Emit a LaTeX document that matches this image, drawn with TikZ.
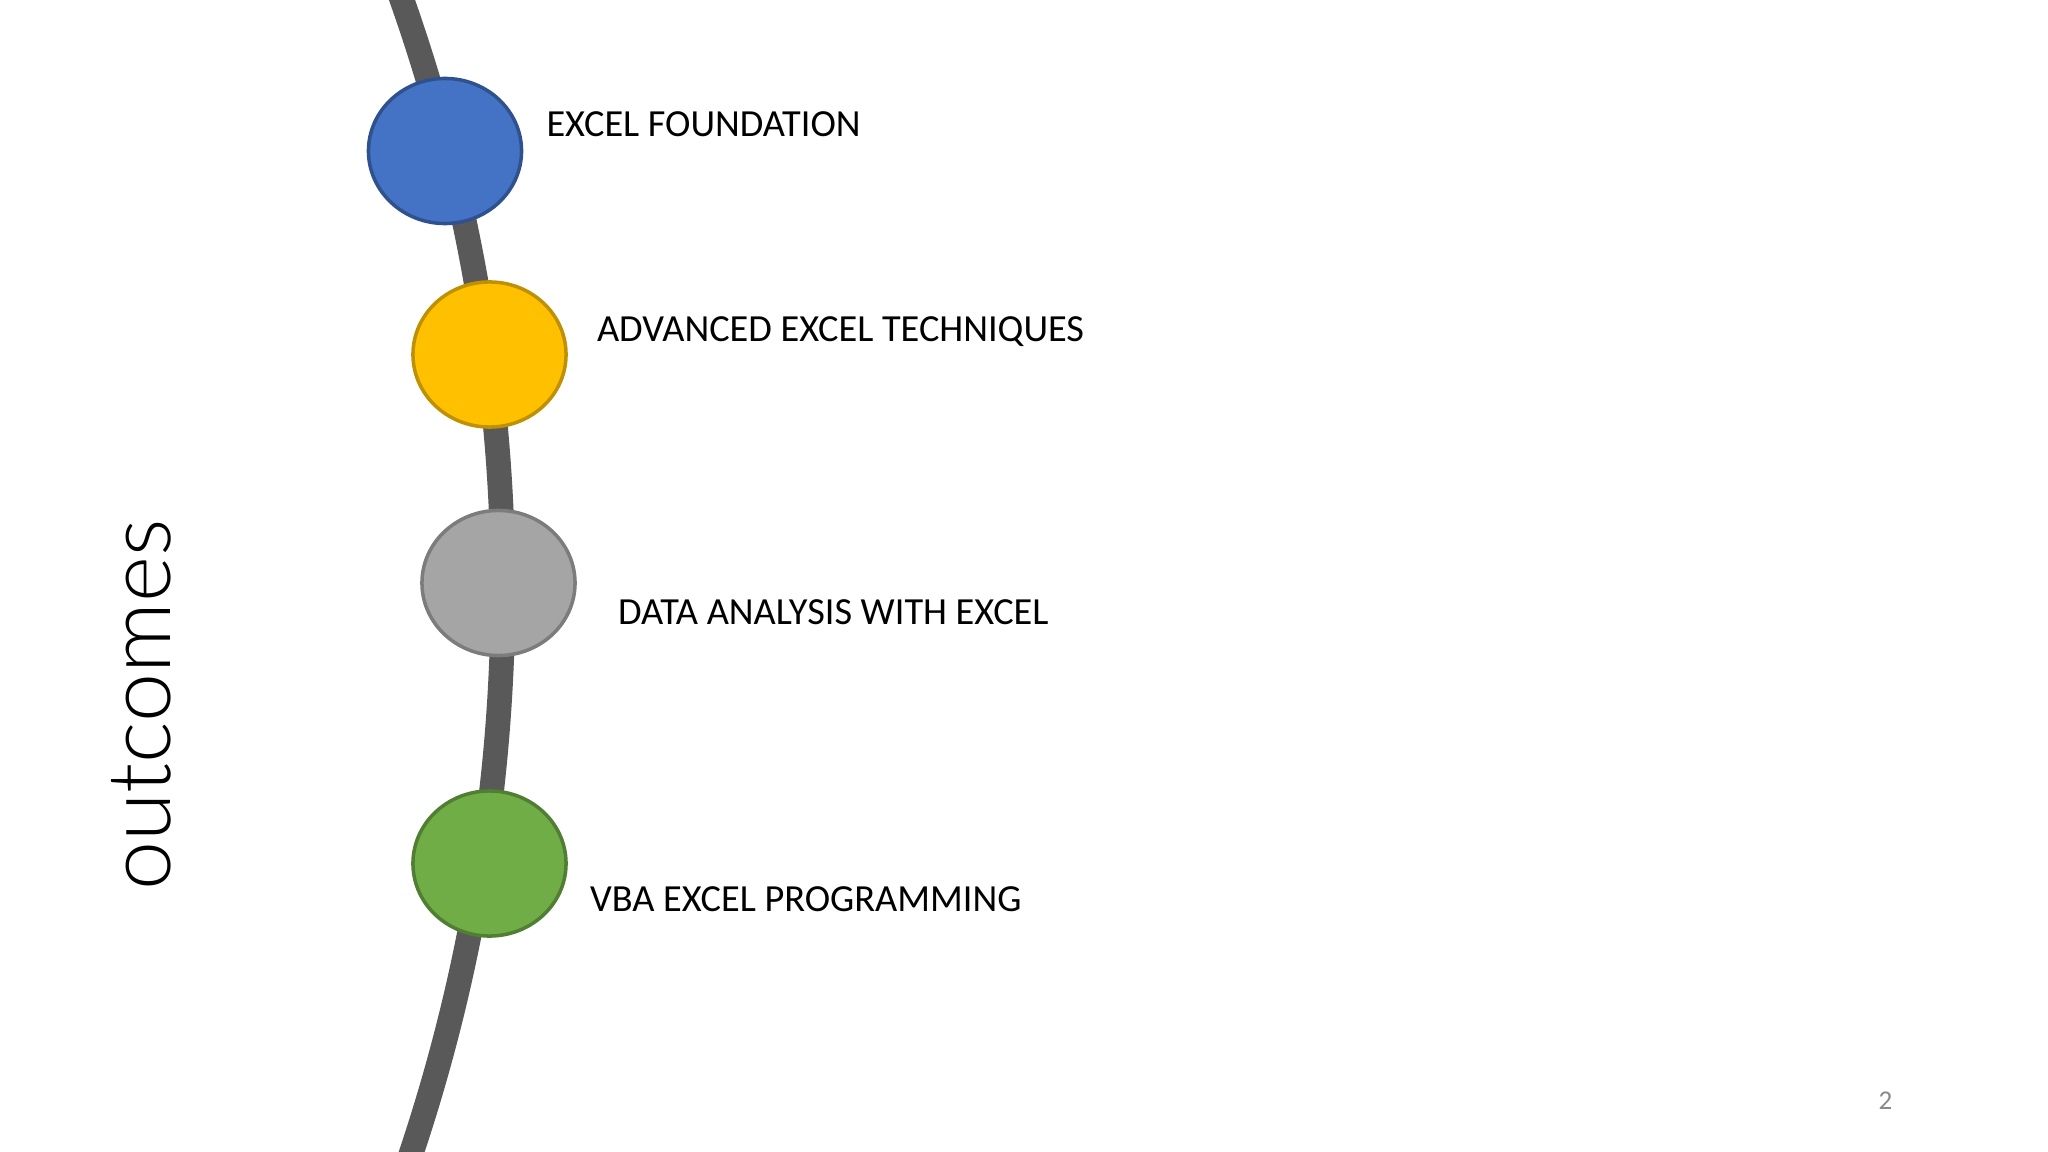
\documentclass[tikz,border=0pt]{standalone}
\usepackage{fontspec}
\setmainfont{Carlito}
\newfontfamily\lightfont{Lato Light}
\usepackage{xcolor}
\usetikzlibrary{positioning}
\usetikzlibrary{shapes.geometric}
\definecolor{arcgray}{HTML}{595959}
\definecolor{dotblue}{HTML}{4472C4}
\definecolor{dotblueline}{HTML}{2F528F}
\definecolor{dotyellow}{HTML}{FFC000}
\definecolor{dotyellowline}{HTML}{BF9000}
\definecolor{dotgray}{HTML}{A5A5A5}
\definecolor{dotgrayline}{HTML}{7C7C7C}
\definecolor{dotgreen}{HTML}{70AD47}
\definecolor{dotgreenline}{HTML}{507E32}
\definecolor{pagegray}{HTML}{898989}
\tikzstyle{dot} = [ellipse, minimum width=1.53cm, minimum height=1.45cm, inner sep=0pt, line width=1pt]
\tikzstyle{topic} = [anchor=west, inner sep=0pt, text height=7.1pt, text depth=0pt, font=\fontsize{10.9}{13}\selectfont]
\tikzstyle{track} = [arcgray, line width=0.247cm]

\begin{document}
\begin{tikzpicture}[x=0.01cm, y=-0.01cm]
                    \useasboundingbox (0,0) rectangle (2048,1152);
                    \begin{scope}
                    \clip (0,0) rectangle (2048,1152);
                    \draw [track] (-1271,590) ++(-21:1774) arc [start angle=-21, end angle=20, radius=1774];
                    \end{scope}
                    \node [dot, fill=dotblue, draw=dotblueline] (foundation) at (445,151) {};
                    \node [dot, fill=dotyellow, draw=dotyellowline] (advanced) at (489.5,354.5) {};
                    \node [dot, fill=dotgray, draw=dotgrayline] (analysis) at (498.5,583) {};
                    \node [dot, fill=dotgreen, draw=dotgreenline] (vba) at (489.5,863.5) {};
                    \node [topic, right=0.225cm of foundation, yshift=0.27cm] (foundationtext) {EXCEL FOUNDATION};
                    \node [topic, right=0.285cm of advanced, yshift=0.255cm] (advancedtext) {ADVANCED EXCEL TECHNIQUES};
                    \node [topic, right=0.405cm of analysis, yshift=-0.29cm] (analysistext) {DATA ANALYSIS WITH EXCEL};
                    \node [topic, right=0.215cm of vba, yshift=-0.35cm] (vbatext) {VBA EXCEL PROGRAMMING};
                    \node [rotate=90, anchor=base, inner sep=0pt, font=\lightfont\fontsize{25}{30}\selectfont] (outcomes) at (170,705) {outcomes};
                    \node [font=\fontsize{7.7}{9}\selectfont, text=pagegray] (pagenum) at (1885.5,1100.5) {2};
                \end{tikzpicture}
\end{document}
